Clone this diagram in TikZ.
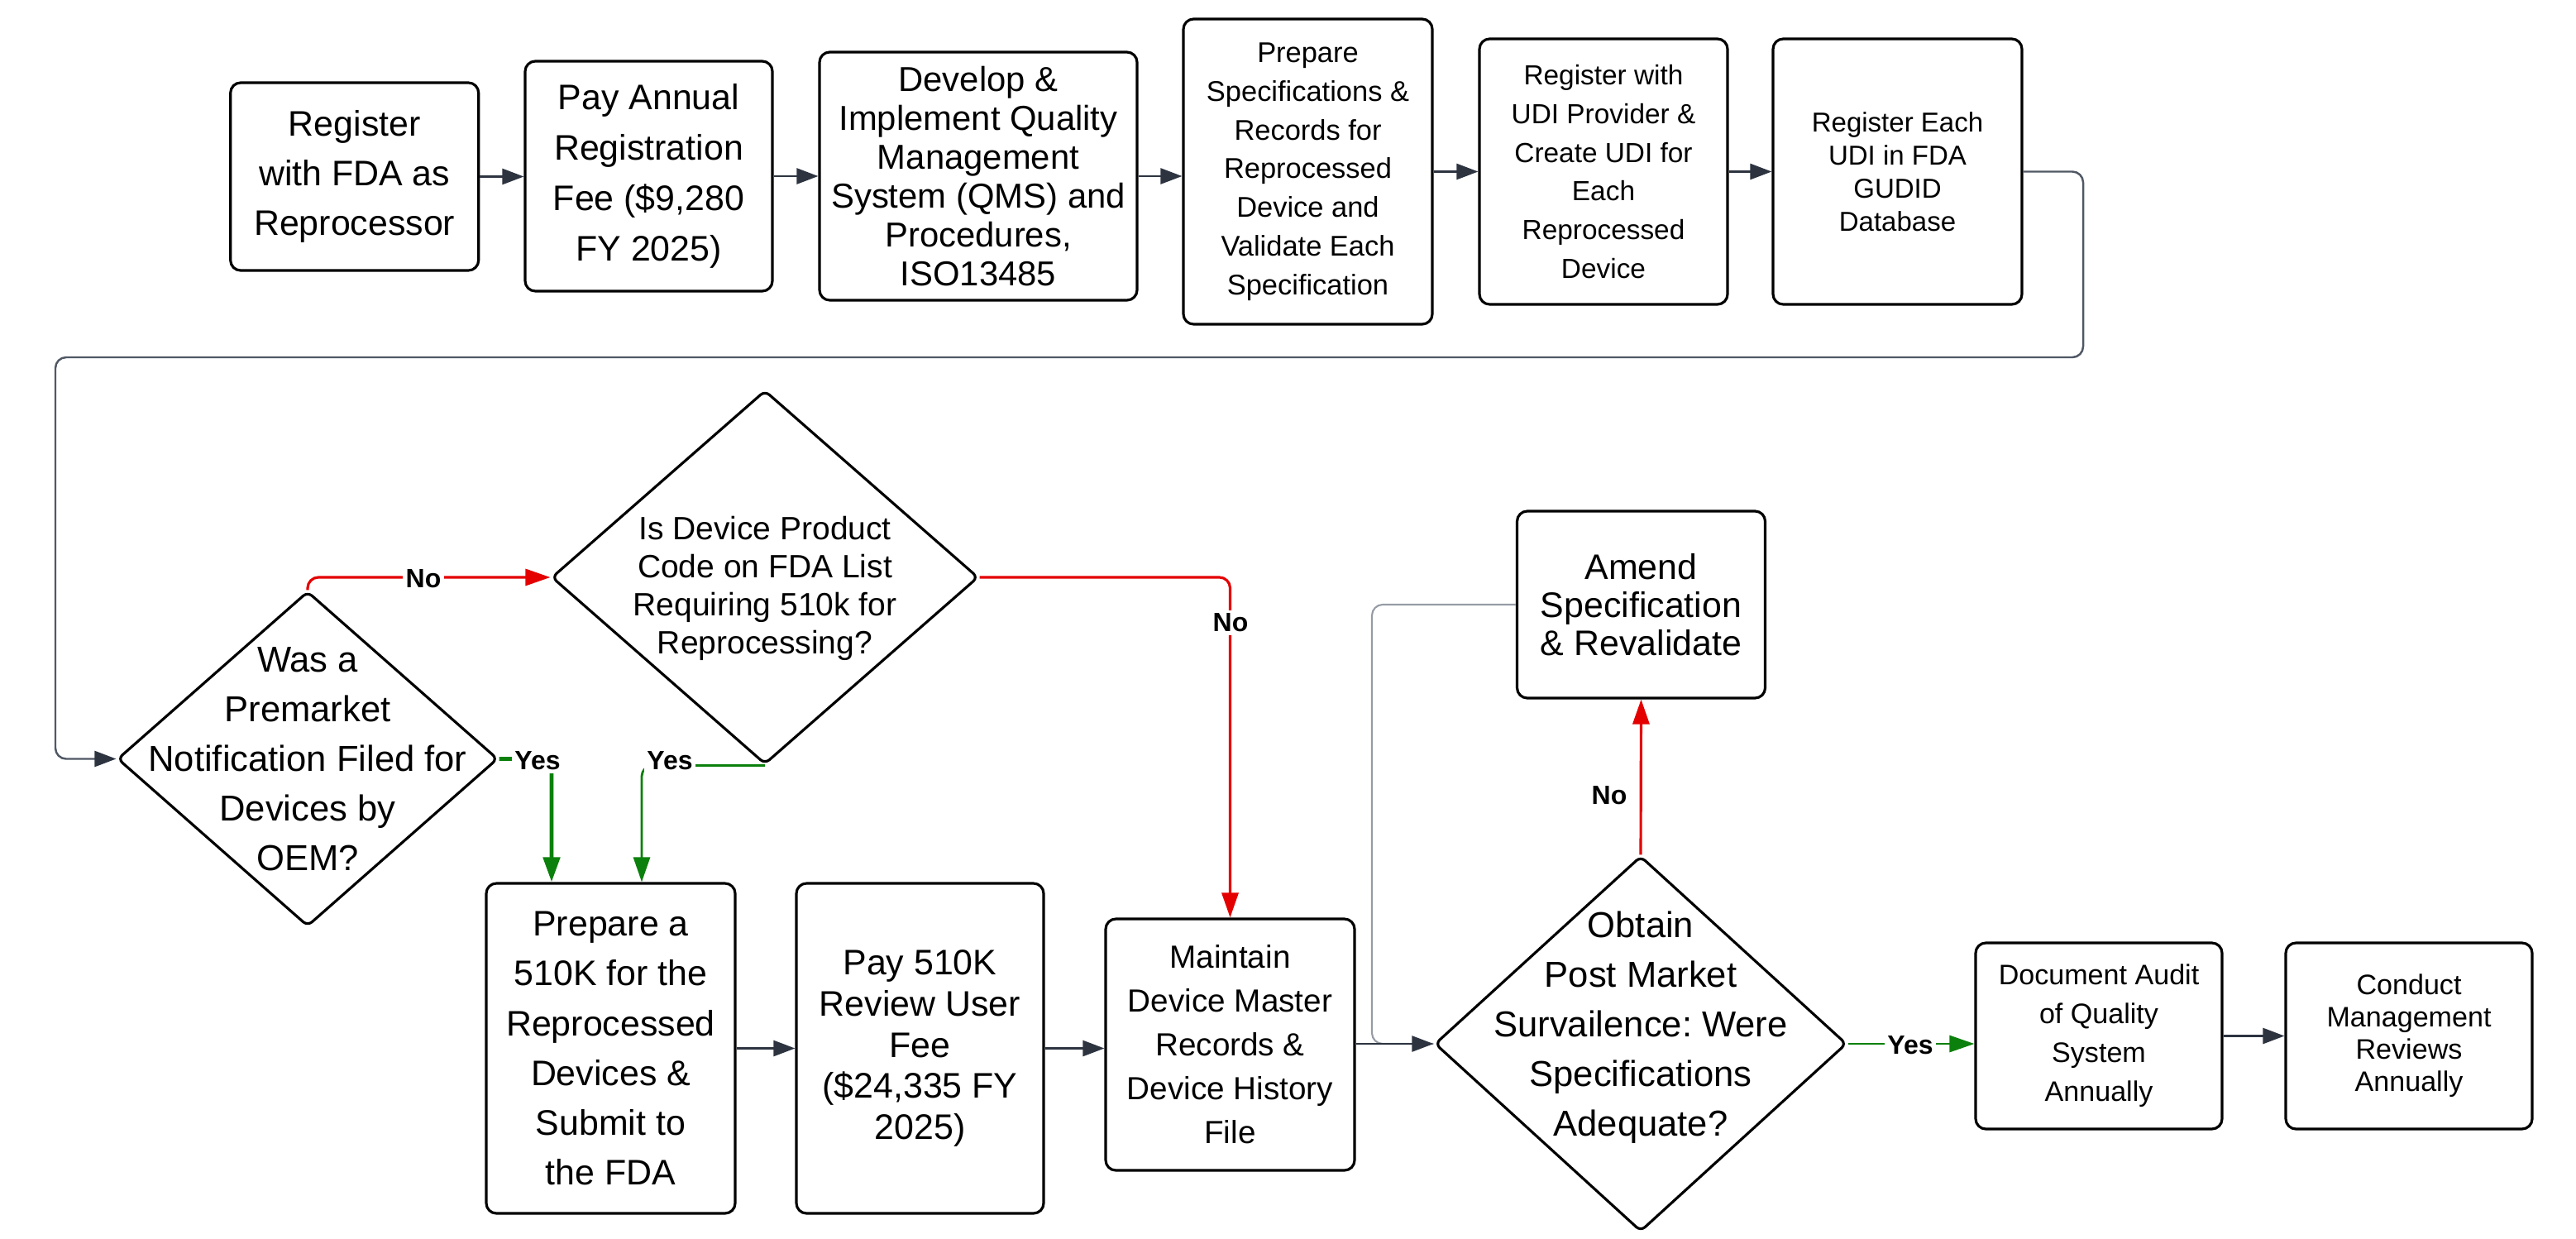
\documentclass[tikz,border=0pt]{standalone}
\usepackage{fontspec}
\setmainfont{Liberation Sans}
\usetikzlibrary{positioning,arrows.meta}
\usetikzlibrary{shapes.geometric}
\newcommand{\fsz}[2]{\fontsize{#1}{#2}\selectfont}
\tikzstyle{every picture}+=[line join=round]
\tikzstyle{procbox} = [draw, line width=0.9pt, rounded corners=3.5pt, align=center, inner sep=0pt]
\tikzstyle{decision} = [draw, diamond, line width=0.9pt, rounded corners=2pt, inner sep=0pt]
\tikzstyle{dtext} = [align=center, inner sep=0pt]
\tikzstyle{flow} = [draw=flowgray, line width=0.7pt, -{Triangle[length=0.26cm,width=0.19cm]}]
\tikzstyle{route} = [draw=routegray, line width=0.7pt, rounded corners=0.13cm, -{Triangle[length=0.26cm,width=0.19cm,color=flowgray]}]
\tikzstyle{loopback} = [draw=loopgray, line width=0.6pt, rounded corners=0.13cm]
\tikzstyle{noline} = [draw=nored, line width=0.9pt, rounded corners=0.13cm, -{Triangle[length=0.3cm,width=0.2cm]}]
\tikzstyle{yesline} = [draw=yesgreen, line width=0.8pt, rounded corners=0.13cm, -{Triangle[length=0.3cm,width=0.2cm]}]
\tikzstyle{lbl} = [fill=white, inner sep=1pt, font=\fsz{9.1}{10}\bfseries]

\begin{document}
\frenchspacing
\begin{tikzpicture}
\definecolor{flowgray}{RGB}{45,52,64}
\definecolor{routegray}{RGB}{80,88,100}
\definecolor{loopgray}{RGB}{150,156,165}
\definecolor{nored}{RGB}{228,0,0}
\definecolor{yesgreen}{RGB}{12,128,12}
 \useasboundingbox (0,0) rectangle (31.15,14.97);

    % Top row: registration steps
    \node[procbox, minimum width=3.00cm, minimum height=2.27cm, font=\fsz{12.2}{17.1}] (reg) at (4.287,12.835) {Register\\with FDA as\\Reprocessor};
    \node[procbox, minimum width=2.99cm, minimum height=2.78cm, font=\fsz{12.2}{17.4}] (annfee) at (7.845,12.84) {Pay Annual\\Registration\\Fee (\$9,280\\FY 2025)};
    \node[procbox, minimum width=3.84cm, minimum height=3.00cm, font=\fsz{11.9}{13.4}] (qms) at (11.83,12.84) {Develop \&\\Implement Quality\\Management\\System (QMS) and\\Procedures,\\ISO13485};
    \node[procbox, minimum width=3.01cm, minimum height=3.69cm, font=\fsz{9.8}{13.3}] (specs) at (15.815,12.895) {Prepare\\Specifications \&\\Records for\\Reprocessed\\Device and\\Validate Each\\Specification};
    \node[procbox, minimum width=3.00cm, minimum height=3.21cm, font=\fsz{9.5}{13.3}] (udi) at (19.39,12.895) {Register with\\UDI Provider \&\\Create UDI for\\Each\\Reprocessed\\Device};
    \node[procbox, minimum width=3.01cm, minimum height=3.21cm, font=\fsz{9.4}{11.4}] (gudid) at (22.945,12.895) {Register Each\\UDI in FDA\\GUDID\\Database};

    % Decisions
    \node[decision, minimum width=4.60cm, minimum height=4.05cm] (premkt) at (3.72,5.795) {};
    \node[dtext, font=\fsz{12.4}{17.1}] (premkt-t) at (premkt.center) {Was a\\Premarket\\Notification Filed for\\Devices by\\OEM?};
    \node[decision, minimum width=5.16cm, minimum height=4.52cm] (prodcode) at (9.25,7.99) {};
    \node[dtext, font=\fsz{11.1}{13.1}] (prodcode-t) at ([yshift=-0.13cm]prodcode.center) {Is Device Product\\Code on FDA List\\Requiring 510k for\\Reprocessing?};
    \node[decision, minimum width=4.98cm, minimum height=4.54cm] (pms) at (19.84,2.35) {};
    \node[dtext, font=\fsz{12.4}{17.1}] (pms-t) at ([yshift=0.2cm]pms.center) {Obtain\\Post Market\\Survailence: Were\\Specifications\\Adequate?};

    % Bottom row
    \node[procbox, minimum width=3.01cm, minimum height=3.99cm, font=\fsz{12.2}{17.1}] (submit) at (7.385,2.295) {Prepare a\\510K for the\\Reprocessed\\Devices \&\\Submit to\\the FDA};
    \node[procbox, minimum width=2.99cm, minimum height=3.99cm, font=\fsz{12.2}{14.2}] (userfee) at (11.125,2.295) {Pay 510K\\Review User\\Fee\\(\$24,335 FY\\2025)};
    \node[procbox, minimum width=3.01cm, minimum height=3.04cm, font=\fsz{11.0}{15.1}] (dmr) at (14.875,2.34) {Maintain\\Device Master\\Records \&\\Device History\\File};
    \node[procbox, minimum width=3.00cm, minimum height=2.26cm, font=\fsz{12.2}{13.1}] (amend) at (19.845,7.66) {Amend\\Specification\\\& Revalidate};
    \node[procbox, minimum width=2.98cm, minimum height=2.25cm, font=\fsz{9.7}{13.4}] (audit) at (25.38,2.445) {Document Audit\\of Quality\\System\\Annually};
    \node[procbox, minimum width=2.98cm, minimum height=2.25cm, font=\fsz{9.7}{11.1}] (review) at (29.13,2.445) {Conduct\\Management\\Reviews\\Annually};

    % Draw top row arrows
    \draw[flow] (reg.east) -- (reg.east -| annfee.west);
    \draw[flow] (annfee.east) -- (annfee.east -| qms.west);
    \draw[flow] (qms.east) -- (qms.east -| specs.west);
    \draw[flow] (specs.east) -- (specs.east -| udi.west);
    \draw[flow] (udi.east) -- (udi.east -| gudid.west);

    % Draw return route to first decision
    \coordinate (routeR) at (25.19,10.65);
    \coordinate (routeL) at (0.67,10.65);
    \draw[route] (gudid.east) -| (routeR) -- (routeL) |- (premkt.west);

    % Draw decision branches
    \draw[noline] (premkt.north) |- (prodcode.west);
    \draw[noline] (prodcode.east) -| (dmr.north);
    \draw[yesline, line width=1.4pt] (premkt.east) -| ([xshift=-0.715cm]submit.north);
    \draw[yesline] (prodcode.south) -| ([xshift=0.375cm]submit.north);

    % Draw bottom row arrows
    \draw[flow] (submit.east) -- (submit.east -| userfee.west);
    \draw[flow] (userfee.east) -- (userfee.east -| dmr.west);
    \coordinate (loopjoin) at (16.59,2.35);
    \draw[loopback] (amend.west) -| (loopjoin) -- (pms.west);
    \draw[flow] (pms.west -| dmr.east) -- (pms.west);
    \draw[noline] (pms.north) -- (amend.south);
    \draw[yesline] (pms.east) -- (pms.east -| audit.west);
    \draw[flow] (audit.east) -- (audit.east -| review.west);

    % Branch labels
    \node[lbl] (no1) at (5.12,7.97) {No};
    \node[lbl] (no2) at (14.88,7.44) {No};
    \node[lbl] (yes1) at (6.50,5.77) {Yes};
    \node[lbl] (yes2) at (8.10,5.77) {Yes};
    \node[lbl, fill=none] (no3) at (19.46,5.35) {No};
    \node[lbl] (yes3) at (23.10,2.33) {Yes};

\end{tikzpicture}
\end{document}
